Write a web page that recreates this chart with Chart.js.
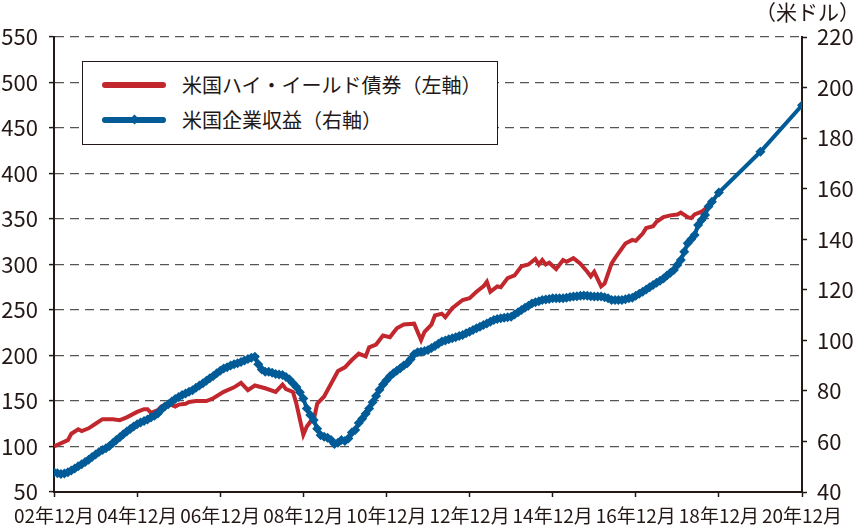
<!DOCTYPE html>
<html lang="ja">
<head>
<meta charset="utf-8">
<script src="https://cdn.jsdelivr.net/npm/chart.js@4/dist/chart.umd.min.js"></script>
<style>
  body { margin: 0; background: #fff; }
  #wrap { position: relative; width: 860px; height: 528px; font-family: "Noto Sans CJK JP", sans-serif; color: #231815; }
  #unit { position: absolute; right: 0; top: -4px; font-size: 21px; }
  #legend { position: absolute; left: 82px; top: 61px; width: 414px; height: 82px; border: 1px solid #231815; background: #fff; }
  .item { position: absolute; left: 19px; height: 24px; font-size: 20px; line-height: 24px; white-space: nowrap; }
  .swatch { position: absolute; left: 0; top: 9px; width: 64px; height: 6px; border-radius: 3px; }
  .item span.txt { position: absolute; left: 80px; top: 0; }
  .mark { position: absolute; left: 29px; top: 8px; width: 7px; height: 7px; background: #005b97; transform: rotate(45deg); }
</style>
</head>
<body>
<div id="wrap">
  <canvas id="chart"></canvas>
  <div id="unit">（米ドル）</div>
  <div id="legend">
    <div class="item" style="top: 11px;"><div class="swatch" style="background:#c1272d"></div><span class="txt">米国ハイ・イールド債券（左軸）</span></div>
    <div class="item" style="top: 46px;"><div class="swatch" style="background:#005b97"></div><div class="mark"></div><span class="txt">米国企業収益（右軸）</span></div>
  </div>
</div>
<script>
// x axis: months counted from 02年12月
const xTickLabels = ['02年12月', '04年12月', '06年12月', '08年12月', '10年12月',
  '12年12月', '14年12月', '16年12月', '18年12月', '20年12月'];

// US high yield bond index (left axis)
const hyMonths = [0, 4, 5, 7, 8, 10, 12, 14, 17, 19, 21, 24, 26, 27, 28, 30, 31, 33, 35, 36,
  38, 39, 41, 44, 46, 49, 52, 54, 56, 58, 61, 64, 66, 67, 69, 70, 71, 72, 73, 74,
  75, 76, 78, 80, 82, 84, 86, 88, 90, 91, 93, 95, 97, 99, 101, 104, 106, 107, 109, 110,
  112, 113, 115, 118, 120, 122, 124, 125, 126, 128, 129, 131, 133, 135, 137, 139, 140, 141, 142, 143,
  145, 147, 148, 150, 152, 154, 155, 156, 158, 159, 161, 162, 165, 167, 168, 170, 171, 173, 174, 176,
  178, 180, 181, 183, 184, 185, 187, 189];
const hyValues = [100, 107, 114, 119, 117, 120, 125, 130, 130, 129, 132, 138, 141, 141, 137, 140, 144, 147, 144, 146,
  147, 149, 150, 150, 153, 160, 165, 170, 162, 167, 164, 160, 168, 163, 160, 147, 130, 113, 122, 127,
  129, 147, 155, 169, 183, 187, 195, 202, 199, 209, 212, 222, 220, 230, 234, 235, 217, 226, 234, 244,
  246, 242, 252, 261, 263, 270, 276, 281, 270, 276, 275, 285, 288, 298, 300, 306, 300, 305, 300, 302,
  295, 305, 303, 307, 301, 292, 287, 292, 276, 279, 301, 307, 323, 327, 326, 334, 340, 342, 347, 352,
  354, 355, 357, 352, 351, 355, 358, 364];

// US corporate earnings (right axis), monthly from 02年12月
const epsValues = [
  47.8, 47.4, 47.1, 47.3, 47.8, 48.5, 49.3, 50.2, 51.0, 51.9, 52.8, 53.8,
  54.8, 55.8, 56.6, 57.3, 58.2, 59.4, 60.6, 61.7, 62.8, 63.9, 64.9, 65.9,
  66.8, 67.5, 68.1, 68.7, 69.5, 70.2, 71.1, 72.6, 73.8, 74.7, 75.8, 76.8,
  77.6, 78.4, 79.0, 79.7, 80.3, 81.2, 82.1, 83.0, 84.0, 85.0, 85.9, 87.0,
  88.0, 88.9, 89.4, 90.0, 90.5, 90.9, 91.4, 92.0, 92.6, 93.1, 93.5, 90.5,
  88.5, 87.6, 87.6, 87.2, 86.7, 86.5, 86.3, 85.5, 84.5, 83.0, 81.5, 79.5,
  77.0, 73.0, 70.5, 68.5, 65.0, 62.5, 61.9, 61.5, 60.6, 59.0, 59.5, 60.6,
  60.2, 61.2, 63.5, 64.5, 67.3, 69.0, 71.0, 73.0, 75.5, 78.0, 80.5, 82.5,
  84.2, 85.8, 87.0, 88.0, 89.0, 90.0, 90.9, 92.5, 94.5, 95.3, 95.5, 95.8,
  96.2, 97.0, 97.8, 98.6, 99.5, 99.9, 100.4, 100.8, 101.2, 101.7, 102.1, 102.8,
  103.4, 104.1, 104.8, 105.4, 106.1, 106.7, 107.4, 108.0, 108.4, 108.7, 108.9, 109.1,
  109.3, 110.2, 111.1, 112.0, 112.9, 113.7, 114.6, 115.1, 115.5, 116.0, 116.2, 116.4,
  116.6, 116.6, 116.6, 116.6, 116.8, 117.1, 117.3, 117.4, 117.6, 117.7, 117.6, 117.4,
  117.3, 117.3, 117.3, 117.0, 116.6, 116.0, 116.0, 116.0, 116.0, 116.3, 116.6, 116.8,
  117.6, 118.4, 119.2, 120.1, 121.0, 121.9, 122.8, 123.6, 124.5, 125.6, 126.7, 127.8,
  129.8, 131.8, 135.0, 138.4, 140.0, 141.7, 145.6, 147.6, 149.6, 152.9, 154.8
];
// estimates
const epsEstMonths = [192, 204, 216];
const epsEstValues = [158.5, 174.6, 193];

const RED = '#c1272d';
const BLUE = '#005b97';
const INK = '#231815';
const FONT = '"Noto Sans CJK JP", sans-serif';

const hyData = hyMonths.map((m, i) => ({ x: m, y: hyValues[i] }));
const epsData = epsValues.map((v, i) => ({ x: i, y: v }))
  .concat(epsEstMonths.map((m, i) => ({ x: m, y: epsEstValues[i] })));

const ctx = document.getElementById('chart').getContext('2d');
new Chart(ctx, {
  type: 'line',
  data: {
    datasets: [
      {
        label: '米国企業収益（右軸）',
        data: epsData,
        yAxisID: 'y1',
        borderColor: BLUE,
        backgroundColor: BLUE,
        borderWidth: 4,
        pointStyle: 'rectRot',
        pointRadius: 5,
        pointBorderWidth: 0,
        tension: 0
      },
      {
        label: '米国ハイ・イールド債券（左軸）',
        data: hyData,
        yAxisID: 'y',
        borderColor: RED,
        borderWidth: 4,
        pointRadius: 0,
        tension: 0
      }
    ]
  },
  options: {
    responsive: true,
    maintainAspectRatio: false,
    animation: false,
    layout: { padding: { top: 37, left: 0, right: 0, bottom: 0 } },
    plugins: {
      legend: { display: false },
      tooltip: { enabled: false }
    },
    scales: {
      x: {
        type: 'linear',
        min: 0,
        max: 216,
        afterFit: (scale) => { scale.height = 36; },
        ticks: {
          stepSize: 24,
          autoSkip: false,
          maxRotation: 0,
          padding: 7,
          color: INK,
          font: { family: FONT, size: 19 },
          callback: (v) => xTickLabels[v / 24]
        },
        grid: { drawOnChartArea: false, tickLength: 5, tickColor: INK, tickWidth: 1.5 },
        border: { color: INK, width: 2 }
      },
      y: {
        position: 'left',
        min: 50,
        max: 550,
        afterFit: (scale) => { scale.width = 54; },
        ticks: {
          stepSize: 50,
          padding: 11,
          color: INK,
          font: { family: FONT, size: 22 }
        },
        grid: { color: '#555', lineWidth: 1.2, tickLength: 5, tickColor: INK, tickWidth: 1.5 },
        border: { color: INK, width: 2, dash: [9, 6] }
      },
      y1: {
        position: 'right',
        min: 40,
        max: 220,
        afterFit: (scale) => { scale.width = 58; },
        ticks: {
          stepSize: 20,
          padding: 10,
          color: INK,
          font: { family: FONT, size: 22 }
        },
        grid: { drawOnChartArea: false, tickLength: 5, tickColor: INK, tickWidth: 1.5 },
        border: { color: INK, width: 2 }
      }
    }
  }
});
</script>
</body>
</html>
